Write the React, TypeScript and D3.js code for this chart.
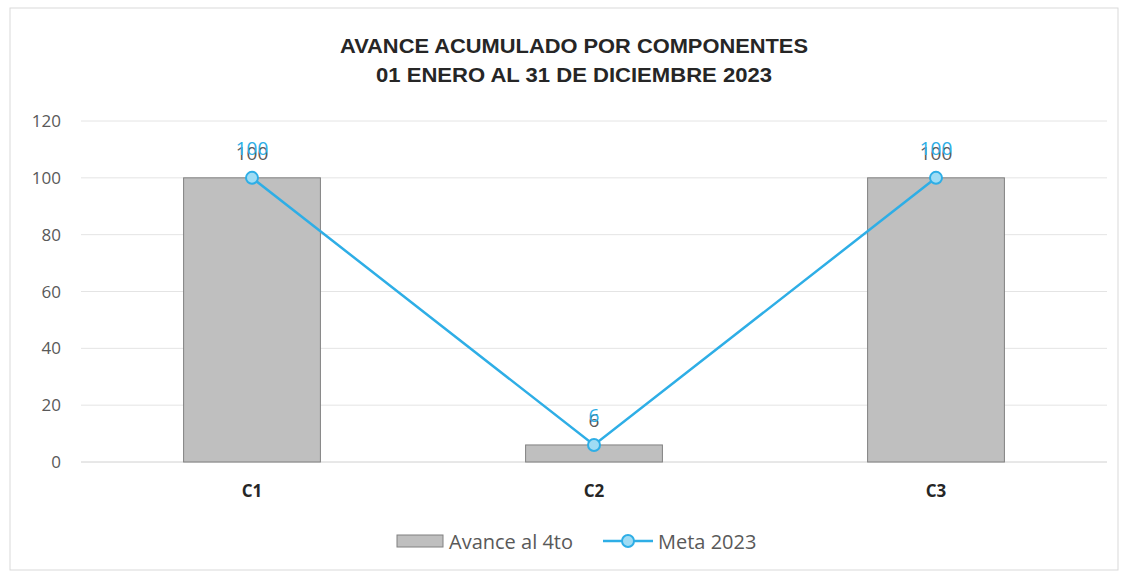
import React from "react";
import * as d3 from "d3";

const categories = ["C1", "C2", "C3"];
const avance = [100, 6, 100];
const meta = [100, 6, 100];
const yTicks = [0, 20, 40, 60, 80, 100, 120];
const titleLines = ["AVANCE ACUMULADO POR COMPONENTES", "01 ENERO AL 31 DE DICIEMBRE 2023"];
const seriesNames = ["Avance al 4to", "Meta 2023"];

const W = 1131, H = 574;
const left = 81, right = 1107, top = 121, bottom = 462;
const font = "'Open Sans', 'Liberation Sans', sans-serif";
const gray = "#595959";
const blue = "#2eaee6";

export default function App() {
  const x = d3.scaleBand<string>().domain(categories).range([left, right]).paddingInner(0.6).paddingOuter(0.3);
  const y = d3.scaleLinear().domain([0, 120]).range([bottom, top]);
  const cx = (c: string) => (x(c) ?? 0) + x.bandwidth() / 2;
  const line = d3.line<number>().x((_, i) => cx(categories[i])).y((d) => y(d));

  return (
    <svg width={W} height={H} style={{ position: "absolute", left: 0, top: 0, background: "#fff" }}>
      <rect x={10} y={8} width={1108} height={562} fill="#fff" stroke="#d9d9d9" strokeWidth={1} />
      {titleLines.map((t, i) => (
        <text key={t} x={574} y={53 + i * 29} textAnchor="middle" fontFamily="'Liberation Sans Narrow', 'Liberation Sans', sans-serif"
          fontWeight="bold" fontSize={21} fill="#262626" textLength={i === 0 ? 468 : 396} lengthAdjust="spacingAndGlyphs">{t}</text>
      ))}
      {yTicks.map((t) => (
        <g key={t}>
          <line x1={left} x2={right} y1={y(t)} y2={y(t)} stroke={t === 0 ? "#d0d0d0" : "#e4e4e4"} strokeWidth={1} />
          <text x={61} y={y(t) + 6} textAnchor="end" fontFamily={font} fontSize={17} fill={gray}>{t}</text>
        </g>
      ))}
      {categories.map((c, i) => (
        <rect key={c} x={x(c)} y={y(avance[i])} width={x.bandwidth()} height={y(0) - y(avance[i])}
          fill="#bfbfbf" stroke="#808080" strokeWidth={1} />
      ))}
      {categories.map((c) => (
        <text key={c} x={cx(c)} y={497} textAnchor="middle" fontFamily={font} fontWeight="bold" fontSize={17} fill="#262626">{c}</text>
      ))}
      <path d={line(meta) ?? ""} fill="none" stroke={blue} strokeWidth={2.5} />
      {categories.map((c, i) => (
        <circle key={c} cx={cx(c)} cy={y(meta[i])} r={6} fill="#9fdcf4" stroke={blue} strokeWidth={2} />
      ))}
      {categories.map((c, i) => (
        <text key={c} x={cx(c)} y={y(avance[i]) - 18} textAnchor="middle" fontFamily={font} fontSize={19} fill={gray}>{avance[i]}</text>
      ))}
      {categories.map((c, i) => (
        <text key={c} x={cx(c)} y={y(meta[i]) - 23} textAnchor="middle" fontFamily={font} fontSize={19} fill={blue}>{meta[i]}</text>
      ))}
      <rect x={397} y={535} width={46} height={12} fill="#bfbfbf" stroke="#808080" strokeWidth={1} />
      <text x={449} y={549} fontFamily={font} fontSize={20} fill={gray}>{seriesNames[0]}</text>
      <line x1={603} x2={653} y1={541} y2={541} stroke={blue} strokeWidth={2.5} />
      <circle cx={628} cy={541} r={6} fill="#9fdcf4" stroke={blue} strokeWidth={2} />
      <text x={658} y={549} fontFamily={font} fontSize={20} fill={gray}>{seriesNames[1]}</text>
    </svg>
  );
}
